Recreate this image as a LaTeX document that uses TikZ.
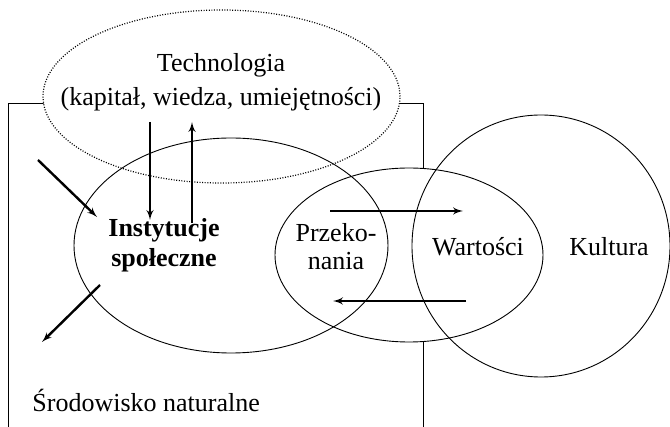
\documentclass[tikz,border=0pt]{standalone}
\usepackage{fontspec}
\setmainfont{Liberation Serif}
\usetikzlibrary{arrows}

\begin{document}
\begin{tikzpicture}[x=1pt,y=-1pt,node distance=131pt,line width=0.9pt,>=latex',
    every node/.style={font=\fontsize{26}{30}\selectfont,align=center},
    link/.style={->,line width=2.4pt}]
      \useasboundingbox (0,0) rectangle (670,427);
      % ramka, ksztalty
      \draw (8,427) -- (8,103) -- (423,103) -- (423,427);
      \fill[white] (221.5,96.5) ellipse [x radius=178.5pt,y radius=86.5pt];
      \fill[white] (409,255) ellipse [x radius=134pt,y radius=87pt];
      \draw (231,245.5) ellipse [x radius=157pt,y radius=107.5pt];
      \draw (409,255) ellipse [x radius=134pt,y radius=87pt];
      \draw (541,246) ellipse [x radius=129pt,y radius=131pt];
      \draw[line width=1.2pt,dash pattern=on 1pt off 1.6pt] (221.5,96.5) ellipse [x radius=178.5pt,y radius=86.5pt];
      % teksty
      \node (Tech) at (221,82) [font=\fontsize{26}{34}\selectfont] {Technologia\\(kapitał, wiedza, umiejętności)};
      \node (Inst) at (164,245) [font=\fontsize{26}{30}\selectfont\bfseries] {Instytucje\\społeczne};
      \node (Przek) at (336,247) [font=\fontsize{26}{28}\selectfont] {Przeko-\\nania};
      \node (Wart) at (478,247) {Wartości};
      \node (Kult) [right of=Wart] {Kultura};
      \node (Srod) at (32,400) [anchor=west,inner sep=0pt] {Środowisko naturalne};
      % strzalki
      \coordinate (a1) at (38,160);  \coordinate (a2) at (97,217);
      \coordinate (b1) at (150,122); \coordinate (b2) at (150,220);
      \coordinate (c1) at (192,223); \coordinate (c2) at (192,122);
      \coordinate (d1) at (100,285); \coordinate (d2) at (42,342);
      \coordinate (e1) at (330,211); \coordinate (e2) at (463,211);
      \coordinate (f1) at (466,301); \coordinate (f2) at (333,301);
      \draw[link] (a1) -- (a2);
      \draw[link] (b1) -- (b2);
      \draw[link] (c1) -- (c2);
      \draw[link] (d1) -- (d2);
      \draw[link] (e1) -- (e2);
      \draw[link] (f1) -- (f2);
\end{tikzpicture}
\end{document}
